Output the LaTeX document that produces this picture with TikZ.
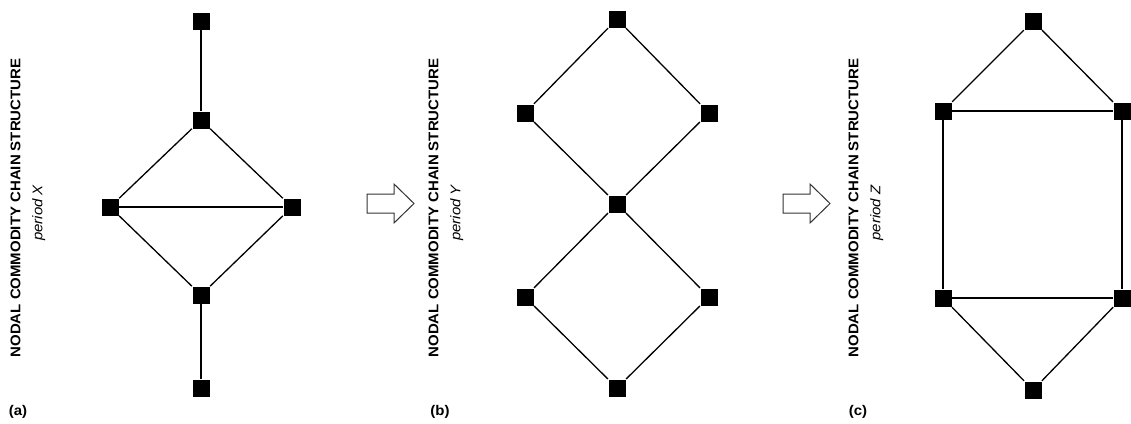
\documentclass[tikz,border=0pt]{standalone}
\usepackage{fontspec}
\setmainfont[FakeStretch=1.07]{Liberation Sans}

\begin{document}
\begin{tikzpicture}[x=1pt, y=-1pt]
		\useasboundingbox (0,0) rectangle (1131,423);
		\begin{scope}[line width=1.3pt]
		\tikzstyle{every node}=[inner sep=0pt]
		\tikzstyle{hub}=[fill=black, minimum size=17pt]
		\tikzstyle{title}=[rotate=90, align=center, font=\fontsize{14}{19}\selectfont]
		\tikzstyle{tag}=[font=\fontsize{14}{16}\selectfont\bfseries]
		\tikzstyle{stagearrow}=[draw=black!80, line width=1pt, fill=white]
				% (a) period X
				\node[title] (TA) at (28,208) {\textbf{NODAL COMMODITY CHAIN STRUCTURE}\\[3pt]{\itshape period X}\hspace*{10pt}};
				\node[tag] (LA) at (18,412) {(a)};
				\node[hub] (A1) at (201,21) {};
				\node[hub] (A2) at (201,120) {};
				\node[hub] (A3) at (110,207) {};
				\node[hub] (A4) at (292,207) {};
				\node[hub] (A5) at (201,295) {};
				\node[hub] (A6) at (201,388) {};

				\draw (A1) -- (A2);
				\draw (A2) -- (A3);
				\draw (A2) -- (A4);
				\draw (A3) -- (A4);
				\draw (A3) -- (A5);
				\draw (A4) -- (A5);
				\draw (A5) -- (A6);

				\draw[stagearrow] (367,194) -- (394,194) -- (394,184) -- (414,203.5) -- (394,223) -- (394,213) -- (367,213) -- cycle;

				% (b) period Y
				\node[title] (TB) at (446,208) {\textbf{NODAL COMMODITY CHAIN STRUCTURE}\\[3pt]{\itshape period Y}\hspace*{10pt}};
				\node[tag] (LB) at (440,412) {(b)};
				\node[hub] (B1) at (617,19) {};
				\node[hub] (B2) at (525,113) {};
				\node[hub] (B3) at (709,113) {};
				\node[hub] (B4) at (617,204) {};
				\node[hub] (B5) at (525,297) {};
				\node[hub] (B6) at (709,297) {};
				\node[hub] (B7) at (617,388) {};

				\draw (B1) -- (B2);
				\draw (B1) -- (B3);
				\draw (B2) -- (B4);
				\draw (B3) -- (B4);
				\draw (B4) -- (B5);
				\draw (B4) -- (B6);
				\draw (B5) -- (B7);
				\draw (B6) -- (B7);

				\draw[stagearrow] (783,194) -- (810,194) -- (810,184) -- (830,203.5) -- (810,223) -- (810,213) -- (783,213) -- cycle;

				% (c) period Z
				\node[title] (TC) at (866,208) {\textbf{NODAL COMMODITY CHAIN STRUCTURE}\\[3pt]{\itshape period Z}\hspace*{10pt}};
				\node[tag] (LC) at (858,412) {(c)};
				\node[hub] (C1) at (1033,21) {};
				\node[hub] (C2) at (943,111) {};
				\node[hub] (C3) at (1122,111) {};
				\node[hub] (C4) at (943,298) {};
				\node[hub] (C5) at (1122,298) {};
				\node[hub] (C6) at (1033,390) {};

				\draw (C1) -- (C2);
				\draw (C1) -- (C3);
				\draw (C2) -- (C3);
				\draw (C2) -- (C4);
				\draw (C3) -- (C5);
				\draw (C4) -- (C5);
				\draw (C4) -- (C6);
				\draw (C5) -- (C6);
		\end{scope}
	\end{tikzpicture}
\end{document}
